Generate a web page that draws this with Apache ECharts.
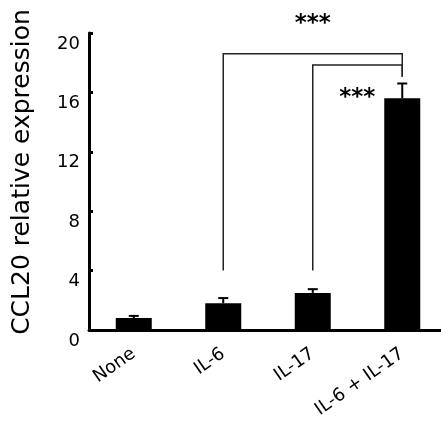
<!DOCTYPE html>
<html>
<head>
<meta charset="utf-8">
<script src="https://cdn.jsdelivr.net/npm/echarts@6/dist/echarts.min.js"></script>
<style>
  html, body { margin: 0; padding: 0; background: #fff; }
  #chart { width: 441px; height: 427px; }
</style>
</head>
<body>
<div id="chart"></div>
<script>
// data
var categories = ["None", "IL-6", "IL-17", "IL-6 + IL-17"];
var means = [0.8, 1.8, 2.5, 15.6];
var errors = [0.15, 0.35, 0.25, 1.0];
var yTicks = [0, 4, 8, 12, 16, 20];
// brackets: [from category, to category, bracket top, left leg bottom, right leg bottom]
var brackets = [
  [1, 3, 18.6, 4.0, 17.05],
  [2, 3, 17.85, 4.0, 17.05]
];
// stars: [category, value, pixel shift in x]
var stars = [
  [2, 20.6, 0],
  [3, 15.6, -45]
];

var FONT = "DejaVu Sans";
var chart = echarts.init(document.getElementById("chart"));

var option = {
  animation: false,
  backgroundColor: "#fff",
  grid: { left: 89, top: 33, height: 297, width: 358, outerBoundsMode: "none", containLabel: false },
  xAxis: {
    type: "category",
    data: categories,
    axisLine: { lineStyle: { color: "#000", width: 3 } },
    axisTick: { inside: true, length: 7, lineStyle: { color: "#000", width: 5 } },
    axisLabel: {
      rotate: 35, margin: 22, color: "#000",
      fontFamily: FONT, fontSize: 18, interval: 0
    }
  },
  yAxis: {
    type: "value",
    min: 0, max: 20, interval: 4,
    axisLine: { show: true, lineStyle: { color: "#000", width: 3 } },
    axisTick: { show: true, inside: true, length: 4, lineStyle: { color: "#000", width: 3 } },
    splitLine: { show: false },
    axisLabel: {
      margin: 9, color: "#000", fontFamily: FONT, fontSize: 18,
      verticalAlign: "top", padding: [2, 0, 0, 0],
      formatter: function (v) { return yTicks.indexOf(v) >= 0 ? String(v) : ""; }
    }
  },
  graphic: [{
    type: "text",
    x: 22, y: 172,
    rotation: Math.PI / 2,
    style: {
      text: "CCL20 relative expression",
      fontFamily: FONT, fontSize: 25, fill: "#000",
      align: "center", verticalAlign: "middle"
    }
  }],
  series: [
    {
      type: "bar",
      data: means,
      barWidth: 36,
      itemStyle: { color: "#000" }
    },
    {
      // error bars
      type: "custom",
      data: means.map(function (m, i) { return [i, m, m + errors[i]]; }),
      renderItem: function (params, api) {
        var lo = api.coord([api.value(0), api.value(1)]);
        var hi = api.coord([api.value(0), api.value(2)]);
        var half = 5;
        return {
          type: "group",
          children: [
            { type: "line", shape: { x1: lo[0], y1: lo[1], x2: hi[0], y2: hi[1] }, style: { stroke: "#000", lineWidth: 2 } },
            { type: "line", shape: { x1: hi[0] - half, y1: hi[1], x2: hi[0] + half, y2: hi[1] }, style: { stroke: "#000", lineWidth: 2 } }
          ]
        };
      },
      z: 3
    },
    {
      // significance brackets
      type: "custom",
      data: brackets,
      renderItem: function (params, api) {
        var a = api.coord([api.value(0), api.value(3)]);
        var topA = api.coord([api.value(0), api.value(2)]);
        var topB = api.coord([api.value(1), api.value(2)]);
        var b = api.coord([api.value(1), api.value(4)]);
        return {
          type: "polyline",
          shape: { points: [a, topA, topB, b] },
          style: { stroke: "#222", lineWidth: 1.5, fill: null }
        };
      },
      z: 4
    },
    {
      // stars
      type: "custom",
      data: stars,
      renderItem: function (params, api) {
        var p = api.coord([api.value(0), api.value(1)]);
        return {
          type: "text",
          x: p[0] + api.value(2), y: p[1],
          style: {
            text: "***", fontFamily: FONT, fontSize: 23, fontWeight: "bold",
            fill: "#000", align: "center", verticalAlign: "middle"
          }
        };
      },
      z: 5
    }
  ]
};

chart.setOption(option);
</script>
</body>
</html>
